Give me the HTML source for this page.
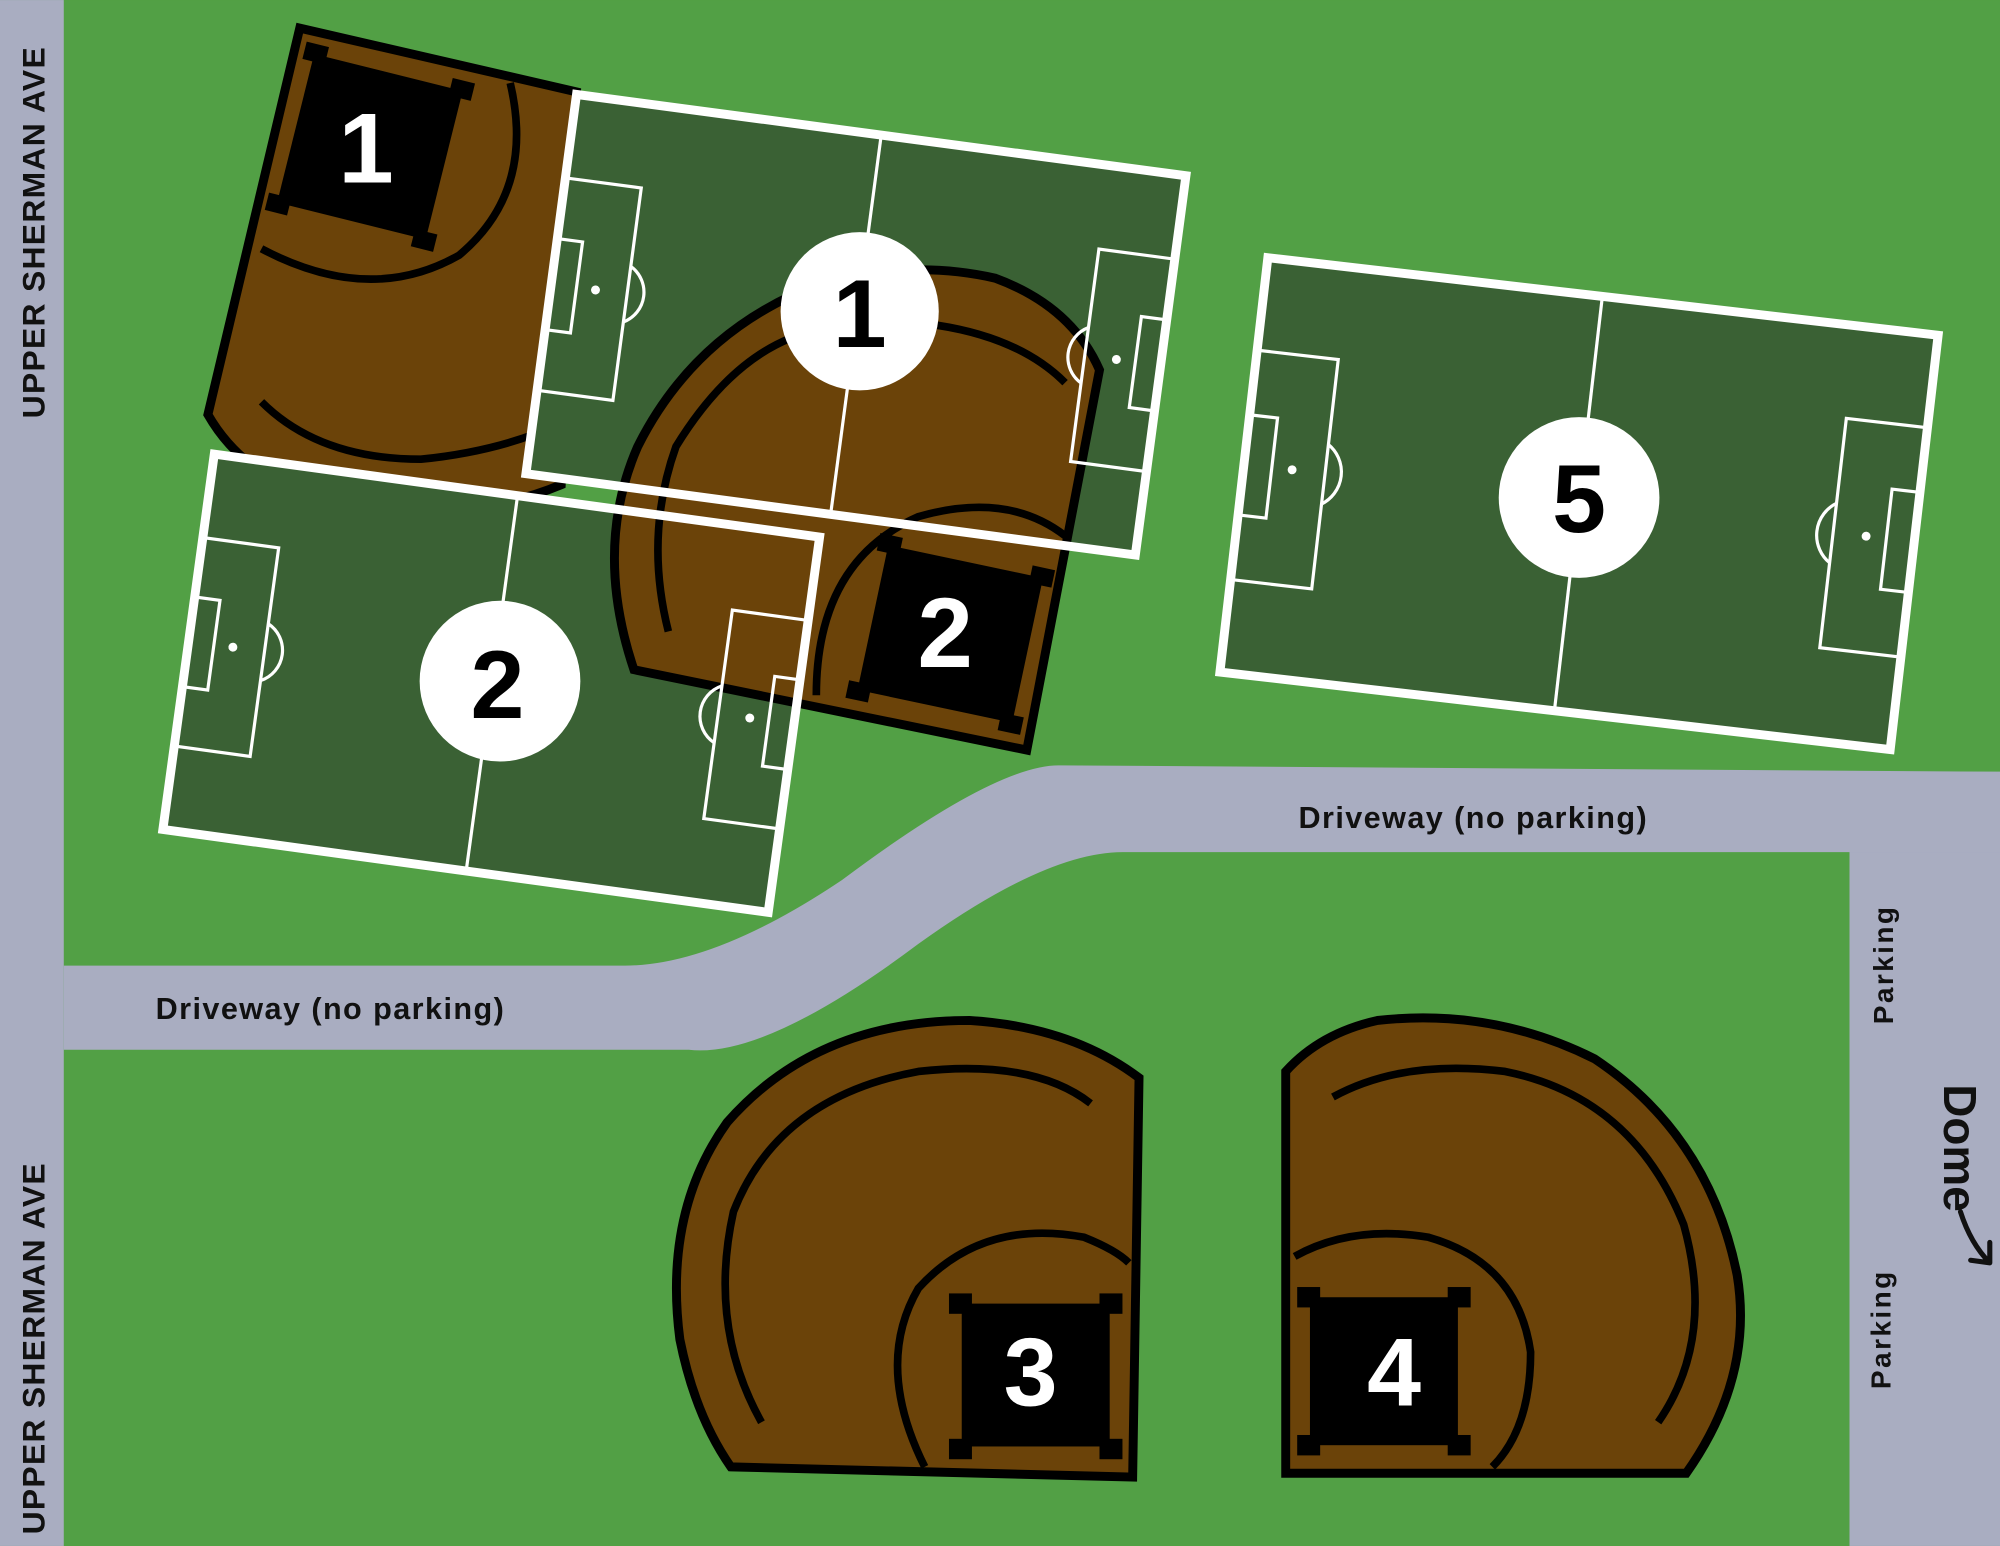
<!DOCTYPE html>
<html><head><meta charset="utf-8"><style>
html,body{margin:0;padding:0;background:#52a045;}
svg{display:block}
text{font-family:"Liberation Sans",sans-serif;font-weight:bold}
</style></head><body>
<svg width="2000" height="1546" viewBox="0 0 1568 1212" xmlns="http://www.w3.org/2000/svg">
<rect width="1568" height="1212" fill="#52a045"/>
<!-- roads -->
<rect x="0" y="0" width="50" height="1212" fill="#a9adc1"/>
<rect x="1450" y="605" width="118" height="607" fill="#a9adc1"/>
<path d="M50,757 L490,757 Q560,757 660,690 Q780,600 830,600 L1568,605 L1568,668 L880,668 Q820,668 720,740 Q600,830 540,823 L50,823 Z" fill="#a9adc1"/>

<!-- baseball 1 -->
<path d="M235,22 L452,72 L440,380 Q380,405 300,402 Q200,390 163,325 Z" fill="#6b4309" stroke="#000" stroke-width="7"/>
<path d="M400,65 Q420,150 360,200 Q290,240 205,195" fill="none" stroke="#000" stroke-width="6"/>
<path d="M205,315 Q250,360 330,360 Q380,355 420,340" fill="none" stroke="#000" stroke-width="6"/>
<g transform="translate(290,115) rotate(14)">
<rect x="-60" y="-60" width="120" height="120" fill="#000"/>
<rect x="-68" y="-68" width="18" height="14" fill="#000"/><rect x="50" y="-68" width="18" height="14" fill="#000"/>
<rect x="-68" y="54" width="18" height="14" fill="#000"/><rect x="50" y="54" width="18" height="14" fill="#000"/>
</g>
<text x="287" y="143" font-size="78" fill="#fff" text-anchor="middle">1</text>

<!-- field fills -->
<g transform="translate(452,74) rotate(7.6)"><rect x="0" y="0" width="482" height="300" fill="#3a6134"/></g>
<g transform="translate(168,356) rotate(7.8)"><rect x="0" y="0" width="479" height="297" fill="#3a6134"/></g>

<!-- baseball 2 -->
<path d="M497,525 L805,588 L862,290 Q840,240 780,218 Q700,200 620,232 Q540,270 500,350 Q465,430 497,525 Z" fill="#6b4309" stroke="#000" stroke-width="7"/>
<path d="M524,495 Q505,420 530,350 Q570,285 620,265" fill="none" stroke="#000" stroke-width="6"/>
<path d="M735,255 Q800,265 835,300" fill="none" stroke="#000" stroke-width="6"/>
<path d="M640,545 Q640,440 720,405 Q790,385 835,420" fill="none" stroke="#000" stroke-width="6"/>

<!-- soccer field 1 lines -->
<g transform="translate(452,74) rotate(7.6)">
<rect x="0" y="0" width="482" height="300" fill="none" stroke="#fff" stroke-width="7"/>
<g fill="none" stroke="#fff" stroke-width="2.5">
<line x1="241" y1="0" x2="241" y2="300"/>
<rect x="0" y="66" width="60" height="168"/><rect x="0" y="114" width="20" height="72"/>
<path d="M60,128 A25,25 0 0 1 60,172"/>
<rect x="422" y="66" width="60" height="168"/><rect x="462" y="114" width="20" height="72"/>
<path d="M422,128 A25,25 0 0 0 422,172"/>
</g>
<circle cx="35" cy="150" r="3.5" fill="#fff"/><circle cx="447" cy="150" r="3.5" fill="#fff"/>
</g>
<circle cx="674" cy="244" r="62" fill="#fff"/>
<text x="674" y="272" font-size="76" fill="#000" text-anchor="middle">1</text>

<!-- diamond 2 home block -->
<g transform="translate(745,497) rotate(12)">
<rect x="-62" y="-58" width="124" height="116" fill="#000"/>
<rect x="-70" y="-66" width="18" height="14" fill="#000"/><rect x="52" y="-66" width="18" height="14" fill="#000"/>
<rect x="-70" y="52" width="18" height="14" fill="#000"/><rect x="52" y="52" width="18" height="14" fill="#000"/>
</g>
<text x="741" y="523" font-size="78" fill="#fff" text-anchor="middle">2</text>

<!-- soccer field 2 lines -->
<g transform="translate(168,356) rotate(7.8)">
<rect x="0" y="0" width="479" height="297" fill="none" stroke="#fff" stroke-width="7"/>
<g fill="none" stroke="#fff" stroke-width="2.5">
<line x1="240" y1="0" x2="240" y2="297"/>
<rect x="0" y="66" width="60" height="165"/><rect x="0" y="113" width="20" height="71"/>
<path d="M60,126 A25,25 0 0 1 60,171"/>
<rect x="419" y="66" width="60" height="165"/><rect x="459" y="113" width="20" height="71"/>
<path d="M419,126 A25,25 0 0 0 419,171"/>
</g>
<circle cx="35" cy="148" r="3.5" fill="#fff"/><circle cx="444" cy="148" r="3.5" fill="#fff"/>
</g>
<circle cx="392" cy="534" r="63" fill="#fff"/>
<text x="390" y="563" font-size="76" fill="#000" text-anchor="middle">2</text>

<!-- soccer field 5 -->
<g transform="translate(994,202) rotate(6.6)">
<rect x="0" y="0" width="529" height="327" fill="#3a6134" stroke="#fff" stroke-width="7"/>
<g fill="none" stroke="#fff" stroke-width="2.5">
<line x1="264" y1="0" x2="264" y2="327"/>
<rect x="0" y="73" width="64" height="181"/><rect x="0" y="124" width="22" height="79"/>
<path d="M64,140 A28,28 0 0 1 64,187"/>
<rect x="465" y="73" width="64" height="181"/><rect x="507" y="124" width="22" height="79"/>
<path d="M465,140 A28,28 0 0 0 465,187"/>
</g>
<circle cx="38" cy="163" r="3.5" fill="#fff"/><circle cx="491" cy="163" r="3.5" fill="#fff"/>
</g>
<circle cx="1238" cy="390" r="63" fill="#fff"/>
<text x="1238" y="417" font-size="76" fill="#000" text-anchor="middle">5</text>

<!-- baseball 3 -->
<path d="M573,1150 L888,1158 L893,845 Q840,805 760,800 Q640,800 570,880 Q520,950 533,1050 Q545,1110 573,1150 Z" fill="#6b4309" stroke="#000" stroke-width="7"/>
<path d="M597,1115 Q555,1040 575,950 Q610,860 720,840 Q810,830 855,865" fill="none" stroke="#000" stroke-width="6"/>
<path d="M725,1150 Q685,1070 720,1010 Q770,955 850,970 Q875,980 885,990" fill="none" stroke="#000" stroke-width="6"/>
<g transform="translate(812,1078)">
<rect x="-58" y="-56" width="116" height="112" fill="#000"/>
<rect x="-68" y="-64" width="18" height="16" fill="#000"/><rect x="50" y="-64" width="18" height="16" fill="#000"/>
<rect x="-68" y="50" width="18" height="16" fill="#000"/><rect x="50" y="50" width="18" height="16" fill="#000"/>
</g>
<text x="808" y="1102" font-size="76" fill="#fff" text-anchor="middle">3</text>

<!-- baseball 4 -->
<path d="M1008,1155 L1322,1155 Q1375,1080 1362,1000 Q1340,890 1250,830 Q1170,790 1080,800 Q1035,810 1008,840 Z" fill="#6b4309" stroke="#000" stroke-width="7"/>
<path d="M1045,860 Q1100,830 1180,840 Q1280,860 1320,960 Q1345,1050 1300,1115" fill="none" stroke="#000" stroke-width="6"/>
<path d="M1015,985 Q1060,960 1120,970 Q1190,990 1200,1060 Q1200,1120 1170,1150" fill="none" stroke="#000" stroke-width="6"/>
<g transform="translate(1085,1075)">
<rect x="-58" y="-58" width="116" height="116" fill="#000"/>
<rect x="-68" y="-66" width="18" height="16" fill="#000"/><rect x="50" y="-66" width="18" height="16" fill="#000"/>
<rect x="-68" y="50" width="18" height="16" fill="#000"/><rect x="50" y="50" width="18" height="16" fill="#000"/>
</g>
<text x="1093" y="1102" font-size="76" fill="#fff" text-anchor="middle">4</text>

<!-- labels -->
<text transform="translate(35,182) rotate(-90)" font-size="25" fill="#111" text-anchor="middle" letter-spacing="1">UPPER SHERMAN AVE</text>
<text transform="translate(35,1057) rotate(-90)" font-size="25" fill="#111" text-anchor="middle" letter-spacing="1">UPPER SHERMAN AVE</text>
<text x="122" y="799" font-size="24" fill="#111" textLength="273" lengthAdjust="spacing">Driveway (no parking)</text>
<text x="1018" y="649" font-size="24" fill="#111" textLength="273" lengthAdjust="spacing">Driveway (no parking)</text>
<text transform="translate(1484,757) rotate(-90)" font-size="22" fill="#111" text-anchor="middle" textLength="92">Parking</text>
<text transform="translate(1482,1043) rotate(-90)" font-size="22" fill="#111" text-anchor="middle" textLength="92">Parking</text>
<text transform="translate(1524,900) rotate(90)" font-size="36" fill="#111" text-anchor="middle">Dome</text>
<path d="M1537,950 Q1545,975 1560,990 M1560,990 L1545,988 M1560,990 L1560,974" fill="none" stroke="#111" stroke-width="4" stroke-linecap="round"/>
</svg>
</body></html>
